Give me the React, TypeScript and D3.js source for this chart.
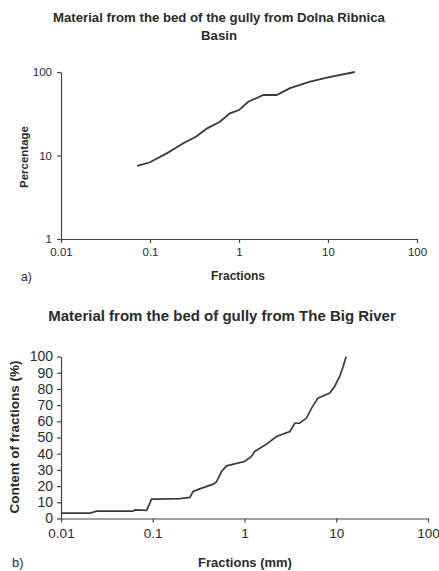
import React, { useEffect, useRef } from "react";
import * as d3 from "d3";

// chart a) Dolna Ribnica Basin - cumulative percentage vs fraction (log-log)
const ribnicaFractions = [0.072, 0.1, 0.154, 0.237, 0.334, 0.434, 0.61, 0.79, 1.0, 1.27, 1.88, 2.65, 3.74, 6.3, 10, 20];
const ribnicaPercent = [7.5, 8.3, 10.6, 14, 17, 21, 25.4, 32, 35, 44, 53, 53, 64, 76.6, 86, 100];

// chart b) The Big River - content of fractions vs fraction (log x)
const riverFractions = [0.01, 0.0207, 0.0245, 0.061, 0.064, 0.0857, 0.093, 0.097, 0.11, 0.198, 0.254, 0.276, 0.325, 0.456, 0.497, 0.562, 0.637, 1.0, 1.19, 1.29, 1.74, 2.23, 3.12, 3.53, 3.99, 4.73, 5.37, 6.3, 8.5, 9.6, 10.9, 11.9, 12.8];
const riverContent = [3.3, 3.3, 4.5, 4.5, 5.3, 5, 9.5, 12, 12, 12.3, 13, 16.7, 18.3, 21.2, 22.8, 29, 32.5, 35.2, 38.3, 41.4, 45.9, 50.6, 53.7, 58.8, 58.8, 62, 68, 74.3, 77.4, 81.5, 87.7, 93.8, 100];

const logTicks = [0.01, 0.1, 1, 10, 100];
const logTickLabels = ["0.01", "0.1", "1", "10", "100"];
const pctLogTicks = [1, 10, 100];
const contentTicks = [0, 10, 20, 30, 40, 50, 60, 70, 80, 90, 100];

const font = "'Liberation Sans', Arial, sans-serif";
const ink = "#2b2b2b";

export default function App() {
  const ref = useRef<SVGSVGElement>(null);

  useEffect(() => {
    const svg = d3.select(ref.current);
    svg.selectAll("*").remove();

    const styleAxis = (g: any, size: number) => {
      g.select(".domain").attr("stroke", "#444").attr("stroke-width", 1.2);
      g.selectAll(".tick line").attr("stroke", "#444").attr("stroke-width", 1.2);
      g.selectAll(".tick text").attr("fill", ink).style("font-family", font).style("font-size", size + "px");
    };

    const label = (g: any, x: number, y: number, size: number, txt: string, bold = true, rotate = false) => {
      const t = g.append("text")
        .style("font-family", font).style("font-weight", bold ? "bold" : "normal")
        .style("font-size", size + "px").attr("fill", ink).text(txt);
      if (rotate) t.attr("transform", `translate(${x},${y}) rotate(-90)`).attr("text-anchor", "middle");
      else t.attr("x", x).attr("y", y).attr("text-anchor", bold ? "middle" : "start");
      return t;
    };

    // ---------- chart a ----------
    const xa = d3.scaleLog().domain([0.01, 100]).range([61, 417]);
    const ya = d3.scaleLog().domain([1, 100]).range([239, 72]);

    const ga = svg.append("g");
    const xAxisA = ga.append("g").attr("transform", "translate(0,239)")
      .call(d3.axisBottom(xa).tickValues(logTicks).tickFormat((d, i) => logTickLabels[i]).tickSize(4).tickSizeOuter(0).tickPadding(5));
    styleAxis(xAxisA, 11.5);
    const yAxisA = ga.append("g").attr("transform", "translate(61,0)")
      .call(d3.axisLeft(ya).tickValues(pctLogTicks).tickFormat(d3.format("d")).tickSize(4).tickSizeOuter(0).tickPadding(5));
    styleAxis(yAxisA, 11.5);

    const lineA = d3.line<number>().x((d) => xa(d)).y((d, i) => ya(ribnicaPercent[i]));
    ga.append("path").attr("d", lineA(ribnicaFractions)).attr("fill", "none")
      .attr("stroke", "#3a3a3a").attr("stroke-width", 1.8);

    label(ga, 219, 22, 13.2, "Material from the bed of the gully from Dolna Ribnica");
    label(ga, 219, 40, 13.2, "Basin");
    label(ga, 28, 157, 11.5, "Percentage", true, true);
    label(ga, 238, 280, 12, "Fractions");
    label(ga, 21, 281, 12, "a)", false);

    // ---------- chart b ----------
    const xb = d3.scaleLog().domain([0.01, 100]).range([61, 428]);
    const yb = d3.scaleLinear().domain([0, 100]).range([518.5, 356.5]);

    const gb = svg.append("g");
    const xAxisB = gb.append("g").attr("transform", "translate(0,518.5)")
      .call(d3.axisBottom(xb).tickValues(logTicks).tickFormat((d, i) => logTickLabels[i]).tickSize(4).tickSizeOuter(0).tickPadding(6));
    styleAxis(xAxisB, 13.5);
    const yAxisB = gb.append("g").attr("transform", "translate(61,0)")
      .call(d3.axisLeft(yb).tickValues(contentTicks).tickFormat(d3.format("d")).tickSize(4).tickSizeOuter(0).tickPadding(4));
    styleAxis(yAxisB, 14);

    const lineB = d3.line<number>().x((d) => xb(d)).y((d, i) => yb(riverContent[i]));
    gb.append("path").attr("d", lineB(riverFractions)).attr("fill", "none")
      .attr("stroke", "#3a3a3a").attr("stroke-width", 1.7);

    label(gb, 222, 321, 15, "Material from the bed of gully from The Big River");
    label(gb, 19, 437, 13.5, "Content of fractions (%)", true, true);
    label(gb, 245, 567, 13, "Fractions (mm)");
    label(gb, 12, 567, 13, "b)", false);
  }, []);

  return (
    <svg
      ref={ref}
      width={439}
      height={571}
      style={{ position: "absolute", left: 0, top: 0, background: "#fff", display: "block" }}
    />
  );
}
